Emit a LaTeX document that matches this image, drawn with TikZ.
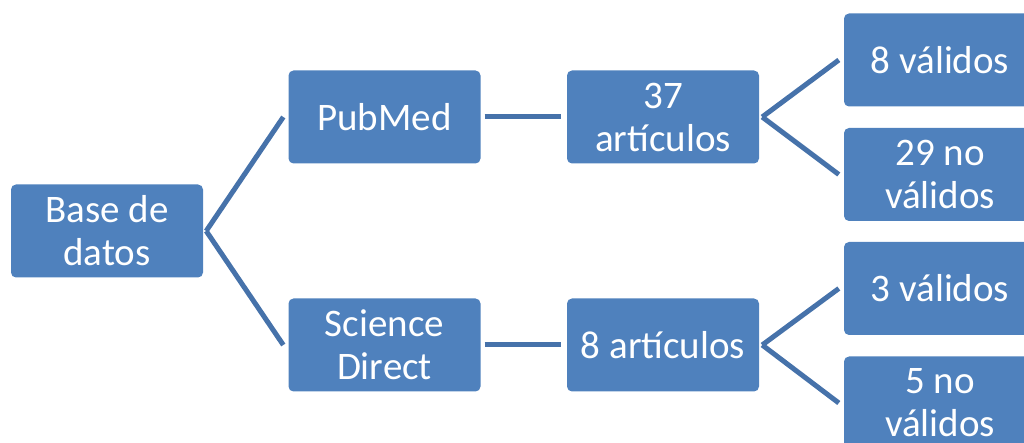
\documentclass[tikz,border=0pt]{standalone}
\usepackage{fontspec}
\setmainfont{Carlito}
\definecolor{boxblue}{HTML}{4F81BD}
\definecolor{linkblue}{HTML}{4672AA}
\begin{document}
\begin{tikzpicture}[x=1pt,y=1pt,
  box/.style={fill=boxblue, draw=none, rounded corners=5pt, minimum width=192pt, minimum height=93pt,
    align=center, text=white, inner sep=0pt,
    font=\fontsize{39}{43}\selectfont},
  link/.style={draw=linkblue, line width=5pt}]
\useasboundingbox (0,0) rectangle (1024,443);
\clip (0,0) rectangle (1024,443);
\node[box] (base) at (107,212) {Base de\\datos};
\node[box] (pub)  at (384.5,326) {PubMed};
\node[box] (sci)  at (384.5,98) {Science\\Direct};
\node[box] (a37)  at (663,326) {37\\artículos};
\node[box] (a8)   at (663,98) {8 artículos};
\node[box] (v8)   at (940,383) {8 válidos};
\node[box] (n29)  at (940,268.5) {29 no\\válidos};
\node[box] (v3)   at (940,154.5) {3 válidos};
\node[box] (n5)   at (940,40) {5 no\\válidos};
\draw[link] ([xshift=3pt]base.east) -- ([xshift=-5pt]pub.west);
\draw[link] ([xshift=3pt]base.east) -- ([xshift=-5pt]sci.west);
\draw[link] ([xshift=4pt]pub.east) -- ([xshift=-6pt]a37.west);
\draw[link] ([xshift=4pt]sci.east) -- ([xshift=-6pt]a8.west);
\draw[link] ([xshift=3pt]a37.east) -- ([xshift=-5pt]v8.west);
\draw[link] ([xshift=3pt]a37.east) -- ([xshift=-5pt]n29.west);
\draw[link] ([xshift=3pt]a8.east) -- ([xshift=-5pt]v3.west);
\draw[link] ([xshift=3pt]a8.east) -- ([xshift=-5pt]n5.west);
\end{tikzpicture}
\end{document}
